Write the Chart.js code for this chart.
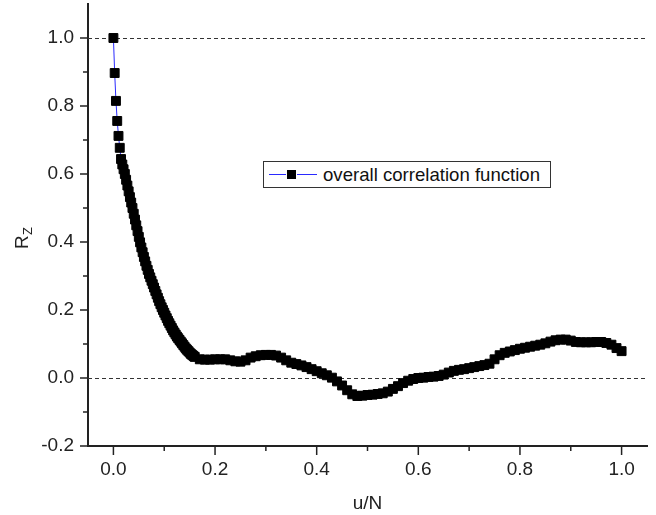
<!DOCTYPE html>
<html>
<head>
<meta charset="utf-8">
<script src="https://cdn.jsdelivr.net/npm/chart.js@4/dist/chart.umd.min.js"></script>
<style>
  html, body { margin: 0; padding: 0; background: #fff; }
  #wrap { position: relative; width: 656px; height: 515px; }
  #legend {
    position: absolute; left: 263px; top: 161px; width: 286px; height: 25px;
    border: 1px solid #333; background: #fff;
    font: 18.6px "Liberation Sans", Arial, sans-serif; color: #111;
    display: flex; align-items: center;
  }
  #legend .ln { display: inline-block; width: 17px; height: 1px; background: #2a2aff; }
  #legend .sq { display: inline-block; width: 9px; height: 9px; background: #000; margin: 0 1px; }
  #legend .txt { margin-left: 6px; white-space: nowrap; }
</style>
</head>
<body>
<div id="wrap">
  <canvas id="chart" width="656" height="515"></canvas>
  <div id="legend"><span style="width:5px"></span><span class="ln"></span><span class="sq"></span><span class="ln" style="width:20px"></span><span class="txt"></span></div>
</div>
<script>
const seriesLabel = "overall correlation function"

// u/N positions and the correlation values
const uN = [
  0, 0.0025, 0.005, 0.0075, 0.01, 0.0125, 0.015, 0.0175, 0.02, 0.0225,
  0.025, 0.0275, 0.03, 0.0325, 0.035, 0.0375, 0.04, 0.0425, 0.045, 0.0475,
  0.05, 0.0525, 0.055, 0.0575, 0.06, 0.0625, 0.065, 0.0675, 0.07, 0.0725,
  0.075, 0.0775, 0.08, 0.0825, 0.085, 0.0875, 0.09, 0.0925, 0.095, 0.0975,
  0.1, 0.1025, 0.105, 0.1075, 0.11, 0.1125, 0.115, 0.1175, 0.12, 0.1225,
  0.125, 0.1275, 0.13, 0.1325, 0.135, 0.1375, 0.14, 0.1425, 0.145, 0.1475,
  0.15, 0.1525, 0.155, 0.1575, 0.16,
  0.17, 0.18, 0.19, 0.2, 0.21, 0.22, 0.23, 0.24, 0.25, 0.26,
  0.27, 0.28, 0.29, 0.3, 0.31, 0.32, 0.33, 0.34, 0.35, 0.36,
  0.37, 0.38, 0.39, 0.4, 0.41, 0.42, 0.43, 0.44, 0.45, 0.46,
  0.47, 0.48, 0.49, 0.5, 0.51, 0.52, 0.53, 0.54, 0.55, 0.56,
  0.57, 0.58, 0.59, 0.6, 0.61, 0.62, 0.63, 0.64, 0.65, 0.66,
  0.67, 0.68, 0.69, 0.7, 0.71, 0.72, 0.73, 0.74, 0.75, 0.76,
  0.77, 0.78, 0.79, 0.8, 0.81, 0.82, 0.83, 0.84, 0.85, 0.86,
  0.87, 0.88, 0.89, 0.9, 0.91, 0.92, 0.93, 0.94, 0.95, 0.96,
  0.97, 0.98, 0.99, 1.0,
]

const rz = [
  1.000, 0.897, 0.815, 0.756, 0.712, 0.677, 0.644, 0.628, 0.614, 0.600,
  0.583, 0.566, 0.549, 0.532, 0.516, 0.500, 0.483, 0.466, 0.449, 0.432,
  0.415, 0.399, 0.384, 0.370, 0.356, 0.343, 0.330, 0.318, 0.306, 0.296,
  0.286, 0.276, 0.266, 0.256, 0.246, 0.236, 0.226, 0.217, 0.208, 0.200,
  0.192, 0.184, 0.176, 0.168, 0.161, 0.154, 0.147, 0.140, 0.134, 0.128,
  0.122, 0.117, 0.112, 0.107, 0.102, 0.097, 0.092, 0.087, 0.083, 0.079,
  0.075, 0.071, 0.068, 0.065, 0.062,
  0.055, 0.054, 0.054, 0.055, 0.055, 0.055, 0.052, 0.049, 0.048, 0.052,
  0.060, 0.064, 0.067, 0.068, 0.068, 0.066, 0.060, 0.052, 0.045, 0.041,
  0.037, 0.032, 0.026, 0.020, 0.014, 0.008, 0.001, -0.010, -0.022, -0.036,
  -0.048, -0.053, -0.052, -0.050, -0.049, -0.047, -0.045, -0.040, -0.032, -0.024,
  -0.015, -0.008, -0.003, 0.000, 0.001, 0.003, 0.004, 0.006, 0.010, 0.016,
  0.021, 0.024, 0.026, 0.029, 0.032, 0.035, 0.038, 0.042, 0.055, 0.067,
  0.074, 0.078, 0.082, 0.086, 0.089, 0.092, 0.095, 0.098, 0.102, 0.107,
  0.111, 0.113, 0.113, 0.110, 0.106, 0.105, 0.105, 0.105, 0.106, 0.106,
  0.103, 0.098, 0.088, 0.079,
]

const xTicks = [0, 0.2, 0.4, 0.6, 0.8, 1.0]
const xMinorTicks = [0.1, 0.3, 0.5, 0.7, 0.9]
const yTicks = [-0.2, 0, 0.2, 0.4, 0.6, 0.8, 1.0]
const yMinorTicks = [-0.1, 0.1, 0.3, 0.5, 0.7, 0.9]
const refLines = [0, 1.0]

const FONT = '"Liberation Sans", Arial, sans-serif'
const INK = "#222"

document.querySelector("#legend .txt").textContent = seriesLabel

const points = uN.map((u, i) => ({x: u, y: rz[i]}))

// dashed reference lines behind the data, tick marks and the R_Z title on top
const decorations = {
  id: "decorations",
  beforeDatasetsDraw(chart) {
    const {ctx, chartArea, scales} = chart
    ctx.save()
    ctx.strokeStyle = "#333"
    ctx.lineWidth = 1
    ctx.setLineDash([4, 3])
    for (const v of refLines) {
      const y = Math.round(scales.y.getPixelForValue(v)) + 0.5
      ctx.beginPath()
      ctx.moveTo(chartArea.left, y)
      ctx.lineTo(chartArea.right, y)
      ctx.stroke()
    }
    ctx.restore()
  },
  afterDraw(chart) {
    const {ctx, chartArea, scales} = chart
    ctx.save()
    ctx.strokeStyle = INK
    ctx.lineWidth = 1.5
    const tick = (x1, y1, x2, y2) => {
      ctx.beginPath()
      ctx.moveTo(x1, y1)
      ctx.lineTo(x2, y2)
      ctx.stroke()
    }
    for (const v of xTicks) {
      const x = scales.x.getPixelForValue(v)
      tick(x, chartArea.bottom, x, chartArea.bottom + 9)
    }
    for (const v of xMinorTicks) {
      const x = scales.x.getPixelForValue(v)
      tick(x, chartArea.bottom, x, chartArea.bottom + 5)
    }
    for (const v of yTicks) {
      const y = scales.y.getPixelForValue(v)
      tick(chartArea.left - 8, y, chartArea.left, y)
    }
    for (const v of yMinorTicks) {
      const y = scales.y.getPixelForValue(v)
      tick(chartArea.left - 5, y, chartArea.left, y)
    }

    // R with subscript Z, rotated
    ctx.translate(28, 239)
    ctx.rotate(-Math.PI / 2)
    ctx.fillStyle = INK
    ctx.textBaseline = "alphabetic"
    ctx.textAlign = "left"
    ctx.font = "19px " + FONT
    ctx.fillText("R", -10, 0)
    ctx.font = "13px " + FONT
    ctx.fillText("Z", 4, 4)
    ctx.restore()
  },
}

new Chart(document.getElementById("chart"), {
  type: "scatter",
  data: {
    datasets: [
      {
        label: seriesLabel,
        data: points,
        showLine: true,
        borderColor: "#2a2aff",
        borderWidth: 1,
        pointStyle: "rect",
        pointRadius: 6.3,
        pointBorderWidth: 1,
        pointBackgroundColor: "#000",
        pointBorderColor: "#000",
      },
    ],
  },
  options: {
    animation: false,
    responsive: false,
    events: [],
    layout: {autoPadding: false, padding: {top: 4, right: 9, left: 0, bottom: 0}},
    plugins: {
      legend: {display: false},
      tooltip: {enabled: false},
    },
    scales: {
      x: {
        type: "linear",
        min: -0.05,
        max: 1.05,
        afterBuildTicks: (scale) => {
          scale.ticks = xTicks.map((value) => ({value}))
        },
        afterFit: (scale) => {
          scale.height = 69
          scale.paddingLeft = 0
          scale.paddingRight = 0
        },
        grid: {display: false, tickLength: 10},
        border: {display: true, color: INK, width: 2},
        ticks: {
          color: INK,
          font: {family: FONT, size: 19},
          padding: 2,
          maxRotation: 0,
          autoSkip: false,
          callback: (v) => Number(v).toFixed(1),
        },
        title: {
          display: true,
          text: "u/N",
          color: INK,
          font: {family: FONT, size: 19},
          padding: {top: 0, bottom: 0},
        },
      },
      y: {
        type: "linear",
        min: -0.2,
        max: 1.1,
        afterBuildTicks: (scale) => {
          scale.ticks = yTicks.map((value) => ({value}))
        },
        afterFit: (scale) => {
          scale.width = 88
          scale.paddingTop = 0
          scale.paddingBottom = 0
        },
        grid: {display: false, tickLength: 10},
        border: {display: true, color: INK, width: 2},
        ticks: {
          color: INK,
          font: {family: FONT, size: 19},
          padding: 4,
          autoSkip: false,
          callback: (v) => Number(v).toFixed(1),
        },
      },
    },
  },
  plugins: [decorations],
})
</script>
</body>
</html>
